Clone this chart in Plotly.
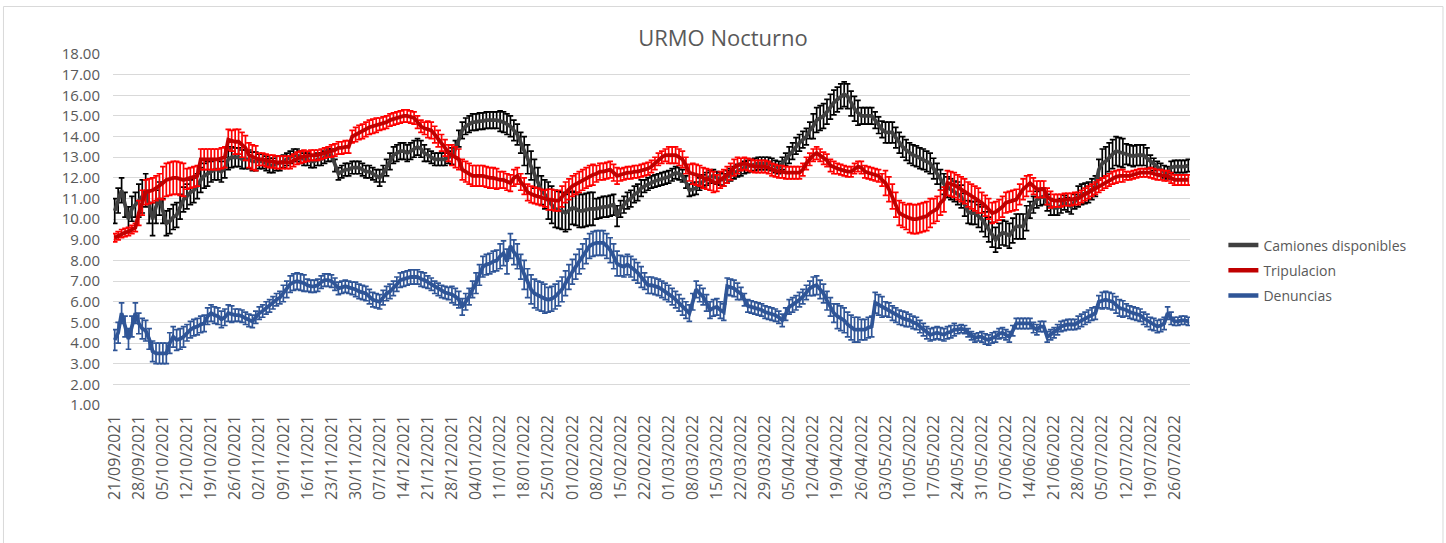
import datetime as dt
import plotly.graph_objects as go

# ---------------- data ----------------
start_date = dt.date(2021, 9, 21)

camiones = [
    10.4, 10.9, 11.4, 10.7, 10.0, 10.5, 10.7,
    10.9, 11.1, 11.4, 10.6, 10.0, 10.6, 11.0,
    10.4, 9.8, 9.9, 10.1, 10.2, 10.6, 10.95,
    11.1, 11.3, 11.4, 11.6, 11.9, 12.1, 12.2,
    12.3, 12.4, 12.4, 12.3, 12.5, 12.9, 13.0,
    13.0, 13.0, 12.9, 12.9, 12.9, 12.8, 12.8,
    12.8, 12.8, 12.7, 12.6, 12.6, 12.7, 12.7,
    12.8, 12.9, 13.0, 13.1, 13.1, 13.0, 12.9,
    12.9, 12.8, 12.8, 12.9, 12.9, 13.0, 13.1,
    13.1, 12.6, 12.2, 12.3, 12.4, 12.4, 12.5,
    12.5, 12.5, 12.4, 12.3, 12.3, 12.2, 12.1,
    12.0, 12.2, 12.5, 12.8, 13.1, 13.2, 13.3,
    13.3, 13.2, 13.3, 13.4, 13.5, 13.4, 13.2,
    13.1, 13.0, 12.9, 12.9, 12.9, 12.9, 13.0,
    13.05, 13.4, 13.9, 14.3, 14.5, 14.6, 14.7,
    14.7, 14.75, 14.75, 14.8, 14.8, 14.8, 14.8,
    14.75, 14.7, 14.6, 14.5, 14.3, 14.1, 13.7,
    13.3, 12.9, 12.6, 12.2, 11.8, 11.4, 11.2,
    10.9, 10.7, 10.5, 10.45, 10.4, 10.3, 10.4,
    10.55, 10.5, 10.4, 10.4, 10.45, 10.5, 10.5,
    10.5, 10.55, 10.6, 10.6, 10.65, 10.7, 10.15,
    10.5, 10.7, 10.9, 11.0, 11.2, 11.3, 11.5,
    11.6, 11.7, 11.8, 11.85, 11.9, 11.95, 12.0,
    12.05, 12.15, 12.25, 12.2, 12.1, 11.8, 11.4,
    11.45, 11.5, 11.7, 11.85, 11.95, 12.05, 12.1,
    12.0, 11.95, 11.9, 12.05, 12.15, 12.25, 12.35,
    12.4, 12.5, 12.55, 12.6, 12.65, 12.7, 12.7,
    12.7, 12.7, 12.65, 12.55, 12.5, 12.7, 12.9,
    13.1, 13.3, 13.55, 13.7, 13.85, 14.0, 14.3,
    14.5, 14.8, 14.9, 15.0, 15.2, 15.45, 15.65,
    15.8, 15.95, 16.05, 15.95, 15.6, 15.35, 15.15,
    15.0, 15.0, 15.0, 15.0, 14.8, 14.55, 14.35,
    14.2, 14.2, 14.2, 13.95, 13.7, 13.5, 13.35,
    13.2, 13.1, 13.05, 12.95, 12.9, 12.8, 12.7,
    12.45, 12.2, 11.9, 11.7, 11.55, 11.45, 11.35,
    11.25, 11.1, 10.7, 10.35, 10.3, 10.3, 10.15,
    10.0, 9.75, 9.5, 9.25, 9.0, 9.2, 9.35,
    9.3, 9.2, 9.45, 9.65, 9.65, 9.65, 10.05,
    10.45, 10.7, 10.95, 11.05, 11.1, 10.8, 10.6,
    10.55, 10.55, 10.65, 10.8, 10.7, 10.6, 10.85,
    11.1, 11.2, 11.25, 11.3, 11.45, 11.6, 12.4,
    12.7, 12.8, 13.0, 13.15, 13.3, 13.25, 13.2,
    13.15, 13.1, 13.05, 13.1, 13.1, 13.1, 12.95,
    12.8, 12.65, 12.5, 12.4, 12.3, 12.25, 12.5,
    12.55, 12.55, 12.55, 12.55, 12.6,
]

tripulacion = [
    9.1, 9.2, 9.3, 9.35, 9.4, 9.5, 9.6,
    10.3, 10.8, 11.3, 11.35, 11.4, 11.5, 11.6,
    11.75, 11.9, 11.95, 12.0, 12.0, 11.95, 11.9,
    11.95, 12.0, 12.05, 12.1, 12.9, 12.9, 12.9,
    12.9, 12.9, 12.9, 12.95, 13.0, 13.85, 13.8,
    13.75, 13.75, 13.6, 13.45, 13.1, 13.0, 12.95,
    12.9, 12.9, 12.85, 12.8, 12.8, 12.75, 12.75,
    12.75, 12.75, 12.75, 12.85, 12.95, 13.0, 13.05,
    13.05, 13.1, 13.1, 13.1, 13.15, 13.2, 13.25,
    13.3, 13.35, 13.45, 13.45, 13.5, 13.5, 14.0,
    14.1, 14.2, 14.25, 14.35, 14.45, 14.5, 14.55,
    14.6, 14.65, 14.7, 14.8, 14.85, 14.9, 14.95,
    15.0, 15.0, 14.95, 14.9, 14.7, 14.5, 14.4,
    14.35, 14.3, 14.1, 13.9, 13.7, 13.45, 13.2,
    13.1, 13.0, 12.9, 12.4, 12.3, 12.2, 12.1,
    12.1, 12.1, 12.1, 12.05, 12.0, 12.0, 11.95,
    11.9, 11.9, 11.8, 11.75, 12.0, 12.1, 11.8,
    11.6, 11.3, 11.2, 11.15, 11.1, 11.05, 11.0,
    10.95, 10.95, 10.9, 10.9, 11.1, 11.3, 11.45,
    11.6, 11.7, 11.8, 11.9, 12.0, 12.1, 12.15,
    12.2, 12.3, 12.3, 12.35, 12.4, 12.25, 12.1,
    12.15, 12.2, 12.25, 12.25, 12.3, 12.3, 12.35,
    12.4, 12.45, 12.55, 12.7, 12.9, 13.0, 13.1,
    13.1, 13.1, 13.1, 13.0, 12.9, 12.6, 12.25,
    12.2, 12.15, 12.1, 12.0, 11.95, 11.9, 11.8,
    11.75, 11.9, 12.0, 12.15, 12.3, 12.5, 12.6,
    12.65, 12.7, 12.65, 12.6, 12.55, 12.55, 12.55,
    12.55, 12.5, 12.4, 12.35, 12.3, 12.3, 12.25,
    12.25, 12.25, 12.25, 12.25, 12.4, 12.7, 12.9,
    13.1, 13.2, 13.1, 12.95, 12.85, 12.6, 12.5,
    12.45, 12.4, 12.35, 12.3, 12.3, 12.45, 12.55,
    12.5, 12.3, 12.25, 12.2, 12.15, 12.1, 11.9,
    11.75, 11.45, 11.1, 10.7, 10.3, 10.2, 10.1,
    10.05, 10.0, 10.0, 10.05, 10.1, 10.15, 10.3,
    10.4, 10.5, 10.8, 10.95, 11.75, 11.7, 11.65,
    11.55, 11.45, 11.35, 11.2, 11.1, 11.0, 10.9,
    10.8, 10.65, 10.5, 10.3, 10.35, 10.45, 10.6,
    10.8, 10.85, 10.9, 10.95, 11.2, 11.45, 11.6,
    11.75, 11.6, 11.45, 11.45, 11.45, 11.1, 10.95,
    10.9, 10.9, 10.9, 10.95, 10.95, 10.95, 11.0,
    11.0, 11.1, 11.2, 11.3, 11.4, 11.5, 11.6,
    11.7, 11.8, 11.9, 12.0, 12.05, 12.1, 12.1,
    12.1, 12.1, 12.15, 12.2, 12.25, 12.25, 12.25,
    12.25, 12.2, 12.15, 12.15, 12.1, 12.1, 12.0,
    11.9, 11.9, 11.9, 11.9, 11.9,
]

denuncias = [
    4.15, 4.5, 5.45, 4.8, 4.2, 4.8, 5.45,
    4.95, 4.7, 4.6, 4.2, 3.6, 3.5, 3.5,
    3.5, 3.5, 4.0, 4.3, 4.15, 4.2, 4.3,
    4.5, 4.65, 4.75, 4.8, 4.9, 4.95, 5.3,
    5.45, 5.35, 5.3, 5.15, 5.25, 5.45, 5.4,
    5.35, 5.35, 5.3, 5.2, 5.1, 5.05, 5.25,
    5.45, 5.55, 5.7, 5.8, 5.95, 6.1, 6.2,
    6.4, 6.6, 6.85, 6.95, 7.0, 6.95, 6.9,
    6.8, 6.75, 6.75, 6.8, 6.95, 7.05, 7.05,
    7.0, 6.85, 6.65, 6.7, 6.75, 6.7, 6.65,
    6.6, 6.5, 6.45, 6.4, 6.25, 6.1, 6.05,
    6.0, 6.2, 6.4, 6.5, 6.65, 6.85, 7.05,
    7.1, 7.15, 7.2, 7.2, 7.2, 7.1, 7.05,
    6.95, 6.85, 6.7, 6.6, 6.5, 6.45, 6.4,
    6.35, 6.25, 6.1, 5.75, 6.0, 6.25, 6.6,
    6.9, 7.3, 7.7, 7.8, 7.85, 7.95, 8.0,
    8.2, 8.35, 7.95, 8.7, 8.4, 8.2, 7.7,
    7.3, 6.9, 6.6, 6.4, 6.3, 6.25, 6.15,
    6.1, 6.15, 6.25, 6.4, 6.6, 6.9, 7.2,
    7.45, 7.7, 7.95, 8.2, 8.45, 8.7, 8.8,
    8.85, 8.85, 8.85, 8.7, 8.5, 8.2, 7.85,
    7.75, 7.7, 7.8, 7.7, 7.55, 7.4, 7.2,
    7.0, 6.8, 6.8, 6.75, 6.7, 6.6, 6.5,
    6.4, 6.25, 6.1, 5.95, 5.75, 5.6, 5.45,
    6.0, 6.6, 6.4, 6.25, 5.95, 5.6, 5.7,
    5.75, 5.6, 5.5, 6.75, 6.7, 6.65, 6.5,
    6.4, 6.1, 5.8, 5.75, 5.7, 5.65, 5.6,
    5.5, 5.45, 5.4, 5.35, 5.25, 5.1, 5.4,
    5.75, 5.85, 5.95, 6.1, 6.25, 6.45, 6.65,
    6.75, 6.8, 6.6, 6.4, 6.05, 5.75, 5.45,
    5.3, 5.2, 5.1, 4.9, 4.75, 4.65, 4.65,
    4.65, 4.65, 4.75, 4.8, 5.95, 5.85, 5.75,
    5.65, 5.6, 5.45, 5.35, 5.25, 5.2, 5.15,
    5.1, 5.0, 4.95, 4.8, 4.65, 4.5, 4.4,
    4.45, 4.5, 4.45, 4.4, 4.5, 4.55, 4.65,
    4.65, 4.7, 4.65, 4.5, 4.35, 4.25, 4.3,
    4.3, 4.2, 4.15, 4.25, 4.3, 4.45, 4.5,
    4.4, 4.3, 4.6, 4.95, 4.95, 4.95, 4.95,
    4.95, 4.75, 4.65, 4.8, 4.8, 4.3, 4.4,
    4.5, 4.65, 4.8, 4.85, 4.9, 4.9, 4.9,
    5.0, 5.1, 5.2, 5.3, 5.4, 5.45, 6.0,
    6.05, 6.1, 6.05, 6.0, 5.85, 5.7, 5.65,
    5.6, 5.5, 5.45, 5.4, 5.35, 5.2, 5.1,
    4.95, 4.9, 4.8, 4.85, 4.95, 5.45, 5.2,
    5.05, 5.05, 5.1, 5.1, 5.05,
]

# weekly error half-widths (one value per week, applies to its 7 days)
err_camiones_week = [0.6, 0.8, 0.6, 0.6, 0.5, 0.45, 0.35, 0.3, 0.3, 0.3, 0.3, 0.4, 0.4, 0.3, 0.4,
                     0.4, 0.5, 0.7, 0.9, 0.8, 0.5, 0.4, 0.3, 0.3, 0.3, 0.3, 0.3, 0.3, 0.4, 0.6,
                     0.6, 0.4, 0.5, 0.5, 0.5, 0.55, 0.6, 0.6, 0.4, 0.35, 0.5, 0.7, 0.5, 0.3, 0.3]
err_tripulacion_week = [0.2, 0.6, 0.8, 0.5, 0.5, 0.6, 0.3, 0.3, 0.25, 0.3, 0.35, 0.3, 0.3, 0.4, 0.5,
                        0.5, 0.4, 0.4, 0.5, 0.5, 0.4, 0.3, 0.3, 0.4, 0.5, 0.4, 0.3, 0.3, 0.3, 0.3,
                        0.25, 0.3, 0.6, 0.7, 0.6, 0.6, 0.5, 0.5, 0.4, 0.3, 0.3, 0.3, 0.2, 0.25, 0.25]
err_denuncias_week = [0.5, 0.5, 0.5, 0.4, 0.4, 0.3, 0.3, 0.4, 0.3, 0.3, 0.35, 0.35, 0.35, 0.3, 0.4,
                      0.5, 0.6, 0.7, 0.6, 0.6, 0.6, 0.5, 0.4, 0.4, 0.4, 0.4, 0.3, 0.3, 0.35, 0.45,
                      0.6, 0.5, 0.35, 0.3, 0.3, 0.2, 0.25, 0.25, 0.25, 0.25, 0.3, 0.4, 0.3, 0.3, 0.2]

series_names = ["Camiones disponibles", "Tripulacion", "Denuncias"]
line_colors = ["#404040", "#C00000", "#2F5597"]
err_colors = ["#000000", "#FF0000", "#2F5597"]
title_text = "URMO Nocturno"
y_ticks = [1, 2, 3, 4, 5, 6, 7, 8, 9, 10, 11, 12, 13, 14, 15, 16, 17, 18]

# ---------------- build ----------------
n = len(camiones)
dates = [(start_date + dt.timedelta(days=i)).strftime("%d/%m/%Y") for i in range(n)]
tick_dates = dates[::7]


def daily(week_vals):
    out = []
    for v in week_vals:
        out.extend([v] * 7)
    return out[:n]


values = [camiones, tripulacion, denuncias]
errors = [daily(err_camiones_week), daily(err_tripulacion_week), daily(err_denuncias_week)]

fig = go.Figure()
for name, vals, err, lc, ec in zip(series_names, values, errors, line_colors, err_colors):
    fig.add_trace(go.Scatter(
        x=dates, y=vals, mode="lines", name=name, showlegend=False,
        line=dict(color=lc, width=3.8),
        error_y=dict(type="data", array=err, visible=True, color=ec, thickness=1.7, width=2.8),
        hoverinfo="x+y",
    ))

for i, (name, lc) in enumerate(zip(series_names, line_colors)):
    fig.add_trace(go.Scatter(
        x=[None], y=[None], mode="lines", name=name, legendgroup=f"g{i}",
        line=dict(color=lc, width=4.5),
    ))

font_fam = "Open Sans, Liberation Sans, sans-serif"
txt_color = "#595959"

fig.update_layout(
    width=1446, height=543,
    margin=dict(l=113, r=256, t=54, b=138),
    paper_bgcolor="white", plot_bgcolor="white",
    title=dict(text=title_text, x=0.5, xanchor="center", xref="container",
               y=1 - 38 / 543, yref="container", yanchor="middle",
               font=dict(family=font_fam, size=22, color=txt_color)),
    font=dict(family=font_fam, color=txt_color),
    showlegend=True,
    legend=dict(x=1.031, y=0.50, xanchor="left", yanchor="top",
                font=dict(family=font_fam, size=14, color=txt_color),
                tracegroupgap=4, bgcolor="rgba(0,0,0,0)"),
    shapes=[dict(type="rect", xref="paper", yref="paper",
                 x0=-0.1017, x1=1.2349, y0=-0.41, y1=1.1353,
                 line=dict(color="#D9D9D9", width=1), fillcolor="rgba(0,0,0,0)", layer="below")],
)

fig.update_xaxes(
    type="category", categoryorder="array", categoryarray=dates,
    range=[-0.5, n - 0.5],
    tickmode="array", tickvals=tick_dates, ticktext=tick_dates,
    tickangle=-90, tickfont=dict(family=font_fam, size=16, color=txt_color),
    ticklabelstandoff=6,
    showgrid=False, showline=False, zeroline=False, ticks="", ticklen=0,
)
fig.update_yaxes(
    range=[1, 18], tickmode="array", tickvals=y_ticks,
    ticktext=[f"{v:.2f}" for v in y_ticks],
    tickfont=dict(family=font_fam, size=15, color=txt_color),
    ticklabelstandoff=12,
    showgrid=True, gridcolor="#D9D9D9", gridwidth=1,
    zeroline=False, showline=False, ticks="",
)

fig.write_html("out.html", config={"displayModeBar": False},
               post_script="document.body.style.margin='0px';")
